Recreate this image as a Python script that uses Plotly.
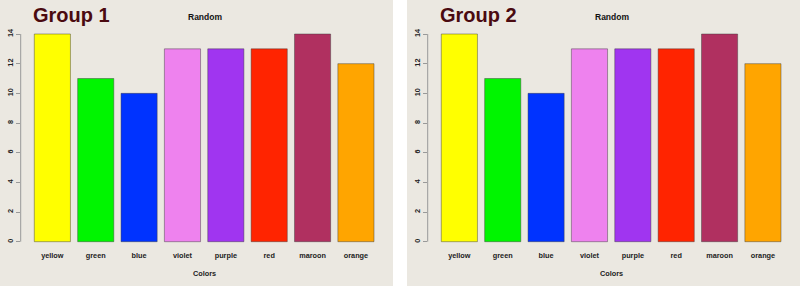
import plotly.graph_objects as go

categories = ["yellow", "green", "blue", "violet", "purple", "red", "maroon", "orange"]
group1_values = [14, 11, 10, 13, 13, 13, 14, 12]
group2_values = [14, 11, 10, 13, 13, 13, 14, 12]
bar_colors = ["#FFFF00", "#00F500", "#0033FF", "#EE82EE", "#A035F0", "#FF2400", "#B03060", "#FFA500"]
y_ticks = [0, 2, 4, 6, 8, 10, 12, 14]
panel_titles = ["Group 1", "Group 2"]

W, H = 800, 286
BG = "#ebe8e1"
FONT = "Liberation Sans, Arial, sans-serif"

def px_x(v):
    return v / W

def px_y(v):
    return 1 - v / H

domains = [(20.7, 387.6), (427.7, 794.6)]
ydom = [px_y(250), px_y(25.7)]

fig = go.Figure()
layout = dict(
    width=W, height=H, margin=dict(l=0, r=0, t=0, b=0),
    paper_bgcolor=BG, plot_bgcolor=BG, showlegend=False,
    bargap=1/6,
    font=dict(family=FONT, color="#222"),
)
shapes = []
annotations = []
for i, (vals, title) in enumerate(zip([group1_values, group2_values], panel_titles)):
    sfx = "" if i == 0 else str(i + 1)
    fig.add_trace(go.Bar(
        x=categories, y=vals, xaxis="x" + sfx, yaxis="y" + sfx,
        marker=dict(color=bar_colors, line=dict(color="rgba(60,60,60,0.45)", width=1)),
        hoverinfo="x+y",
    ))
    d0, d1 = domains[i]
    layout["xaxis" + sfx] = dict(
        domain=[px_x(d0), px_x(d1)], anchor="y" + sfx, type="category",
        range=[-0.73, 7.73], showgrid=False, zeroline=False, showline=False,
        ticks="", tickfont=dict(size=7.3, color="#222", family=FONT, weight="bold"), fixedrange=True,
    )
    layout["yaxis" + sfx] = dict(
        domain=ydom, anchor="x" + sfx, range=[-0.56, 14.56],
        showgrid=False, zeroline=False, showline=False,
        tickvals=y_ticks, ticktext=[str(t) for t in y_ticks],
        ticks="outside", ticklen=4, tickcolor="#999", tickwidth=1,
        tickangle=-90, tickfont=dict(size=7.3, color="#222", family=FONT, weight="bold"), fixedrange=True,
    )
    # y-axis line from 0 to 14 only (R style)
    shapes.append(dict(type="line", xref="x" + sfx + " domain", yref="y" + sfx,
                       x0=0, x1=0, y0=y_ticks[0], y1=y_ticks[-1],
                       line=dict(color="#999", width=1)))
    off = 0 if i == 0 else 407
    annotations.append(dict(text="Random", x=px_x(205 + off), y=px_y(16.5), xref="paper", yref="paper",
                            showarrow=False, xanchor="center", yanchor="middle",
                            font=dict(size=8.5, color="#111", family=FONT, weight="bold")))
    annotations.append(dict(text="Colors", x=px_x(204 + off), y=px_y(273.5), xref="paper", yref="paper",
                            showarrow=False, xanchor="center", yanchor="middle",
                            font=dict(size=7.3, color="#222", family=FONT, weight="bold")))
    annotations.append(dict(text="<b>" + title + "</b>", x=px_x(31 + off), y=px_y(15), xref="paper", yref="paper",
                            showarrow=False, xanchor="left", yanchor="middle",
                            font=dict(size=20, color="#4a0a10", family=FONT)))

# white separator between the two panels
shapes.append(dict(type="rect", xref="paper", yref="paper", x0=px_x(393), x1=px_x(407), y0=0, y1=1,
                   fillcolor="white", line=dict(width=0), layer="below"))
layout["shapes"] = shapes
layout["annotations"] = annotations
fig.update_layout(**layout)
fig.write_html("out.html")
